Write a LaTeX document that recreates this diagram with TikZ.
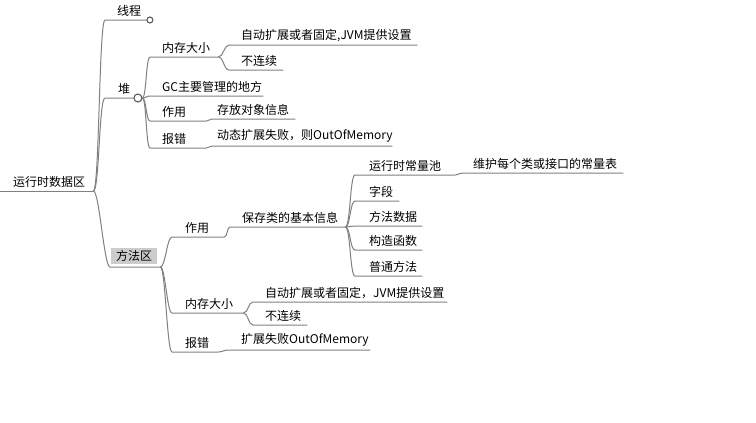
\documentclass[tikz,border=0pt]{standalone}
\usepackage{fontspec}
\usepackage{tikz}
\usetikzlibrary{positioning}
\newfontfamily\cjk{Noto Sans CJK SC}
\definecolor{linegray}{RGB}{128,128,128}
\definecolor{knobgray}{RGB}{80,80,80}
\definecolor{boxgray}{RGB}{204,204,204}

\begin{document}
\begin{tikzpicture}[
            x = 1pt, y = -1pt, % one unit per screen pixel, y downwards
            font = \cjk\fontsize{12}{14}\selectfont,
            topic/.style = {anchor = south west, inner xsep = 0pt, inner ysep = 3pt,
                            align = left, text width = #1, indent = 12pt,
                            execute at begin node = {\hyphenpenalty=10000\hspace*{\topicindent}}},
            indent/.code = {\def\topicindent{#1}},
            knob/.style = {circle, draw = knobgray, fill = white, line width = 1pt,
                           inner sep = 0pt, minimum size = #1},
            twig/.style = {to path = {.. controls +(#1,0) and +(-#1,0) .. (\tikztotarget)}},
            twig/.default = 6
            ]

        \tikzstyle{branch}=[
            draw = linegray,
            line width = 1pt
        ]

        \fill[white] (0,0) rectangle (756,423);
        \useasboundingbox (0,0) rectangle (756,423);

	% root
	\node[topic=93pt, indent=13pt] (R) at (0,191) {运行时数据区};
	\draw[branch] (R.south west) -- (R.south east);

	% first level
	\node[topic=41pt] (T) at (105,20) {线程};
	\node[knob=6pt] (Tk) [right = 0pt of T.south east] {};
	\node[topic=28pt, indent=13pt] (H) at (105,98) {堆};
	\node[knob=8pt] (Hk) [right = 0pt of H.south east] {};
	\node[topic=50pt, indent=1pt] (M) at (110,267)
	    {{\setlength{\fboxsep}{2.5pt}\colorbox{boxgray}{\hspace{2.5pt}方法区\hspace{2.5pt}}}};
	\draw[branch] (R.south east) to[twig] (T.south west) -- (T.south east);
	\draw[branch] (R.south east) to[twig] (H.south west) -- (H.south east);
	\draw[branch] (R.south east) to[twig] (M.south west) -- (M.south east);

	% heap
	\node[topic=68pt] (H1) at (150,57) {内存大小};
	\node[topic=113pt] (H2) at (150,96) {GC主要管理的地方};
	\node[topic=56pt] (H3) at (150,121) {作用};
	\node[topic=56pt] (H4) at (150,148) {报错};
	\draw[branch] (Hk.east) to[twig=4] (H1.south west) -- (H1.south east);
	\draw[branch] (Hk.east) to[twig=4] (H2.south west) -- (H2.south east);
	\draw[branch] (Hk.east) to[twig=4] (H3.south west) -- (H3.south east);
	\draw[branch] (Hk.east) to[twig=4] (H4.south west) -- (H4.south east);

	\node[topic=188pt] (H11) at (229,45) {自动扩展或者固定,JVM提供设置};
	\node[topic=54pt] (H12) at (229,70) {不连续};
	\draw[branch] (H1.south east) to[twig=5] (H11.south west) -- (H11.south east);
	\draw[branch] (H1.south east) to[twig=5] (H12.south west) -- (H12.south east);

	\node[topic=83pt, indent=5pt] (H31) at (212,119) {存放对象信息};
	\node[topic=180pt, indent=5pt] (H41) at (212,146) {动态扩展失败，则OutOfMemory};
	\draw[branch] (H3.south east) to[twig=3] (H31.south west) -- (H31.south east);
	\draw[branch] (H4.south east) to[twig=3] (H41.south west) -- (H41.south east);

	% method area
	\node[topic=52pt, indent=13pt] (M1) at (172,237) {作用};
	\node[topic=71pt, indent=13pt] (M2) at (172,313) {内存大小};
	\node[topic=46pt, indent=13pt] (M3) at (172,352) {报错};
	\draw[branch] (M.south east) to[twig=5] (M1.south west) -- (M1.south east);
	\draw[branch] (M.south east) to[twig=5] (M2.south west) -- (M2.south east);
	\draw[branch] (M.south east) to[twig=5] (M3.south west) -- (M3.south east);

	\node[topic=115pt] (M11) at (230,227) {保存类的基本信息};
	\draw[branch] (M1.south east) to[twig=3] (M11.south west) -- (M11.south east);

	\node[topic=100pt, indent=14pt] (M111) at (355,175) {运行时常量池};
	\node[topic=44pt, indent=14pt] (M112) at (355,201) {字段};
	\node[topic=67pt, indent=14pt] (M113) at (355,226) {方法数据};
	\node[topic=67pt, indent=14pt] (M114) at (355,250) {构造函数};
	\node[topic=67pt, indent=14pt] (M115) at (355,276) {普通方法};
	\draw[branch] (M11.south east) to[twig=5] (M111.south west) -- (M111.south east);
	\draw[branch] (M11.south east) to[twig=5] (M112.south west) -- (M112.south east);
	\draw[branch] (M11.south east) to[twig=5] (M113.south west) -- (M113.south east);
	\draw[branch] (M11.south east) to[twig=5] (M114.south west) -- (M114.south east);
	\draw[branch] (M11.south east) to[twig=5] (M115.south west) -- (M115.south east);

	\node[topic=161pt, indent=11pt] (M1111) at (462,173) {维护每个类或接口的常量表};
	\draw[branch] (M111.south east) to[twig=3] (M1111.south west) -- (M1111.south east);

	\node[topic=194pt] (M21) at (253,302) {自动扩展或者固定，JVM提供设置};
	\node[topic=54pt] (M22) at (253,325) {不连续};
	\draw[branch] (M2.south east) to[twig=5] (M21.south west) -- (M21.south east);
	\draw[branch] (M2.south east) to[twig=5] (M22.south west) -- (M22.south east);

	\node[topic=142pt, indent=13pt] (M31) at (228,350) {扩展失败OutOfMemory};
	\draw[branch] (M3.south east) to[twig=3] (M31.south west) -- (M31.south east);

\end{tikzpicture}
\end{document}
